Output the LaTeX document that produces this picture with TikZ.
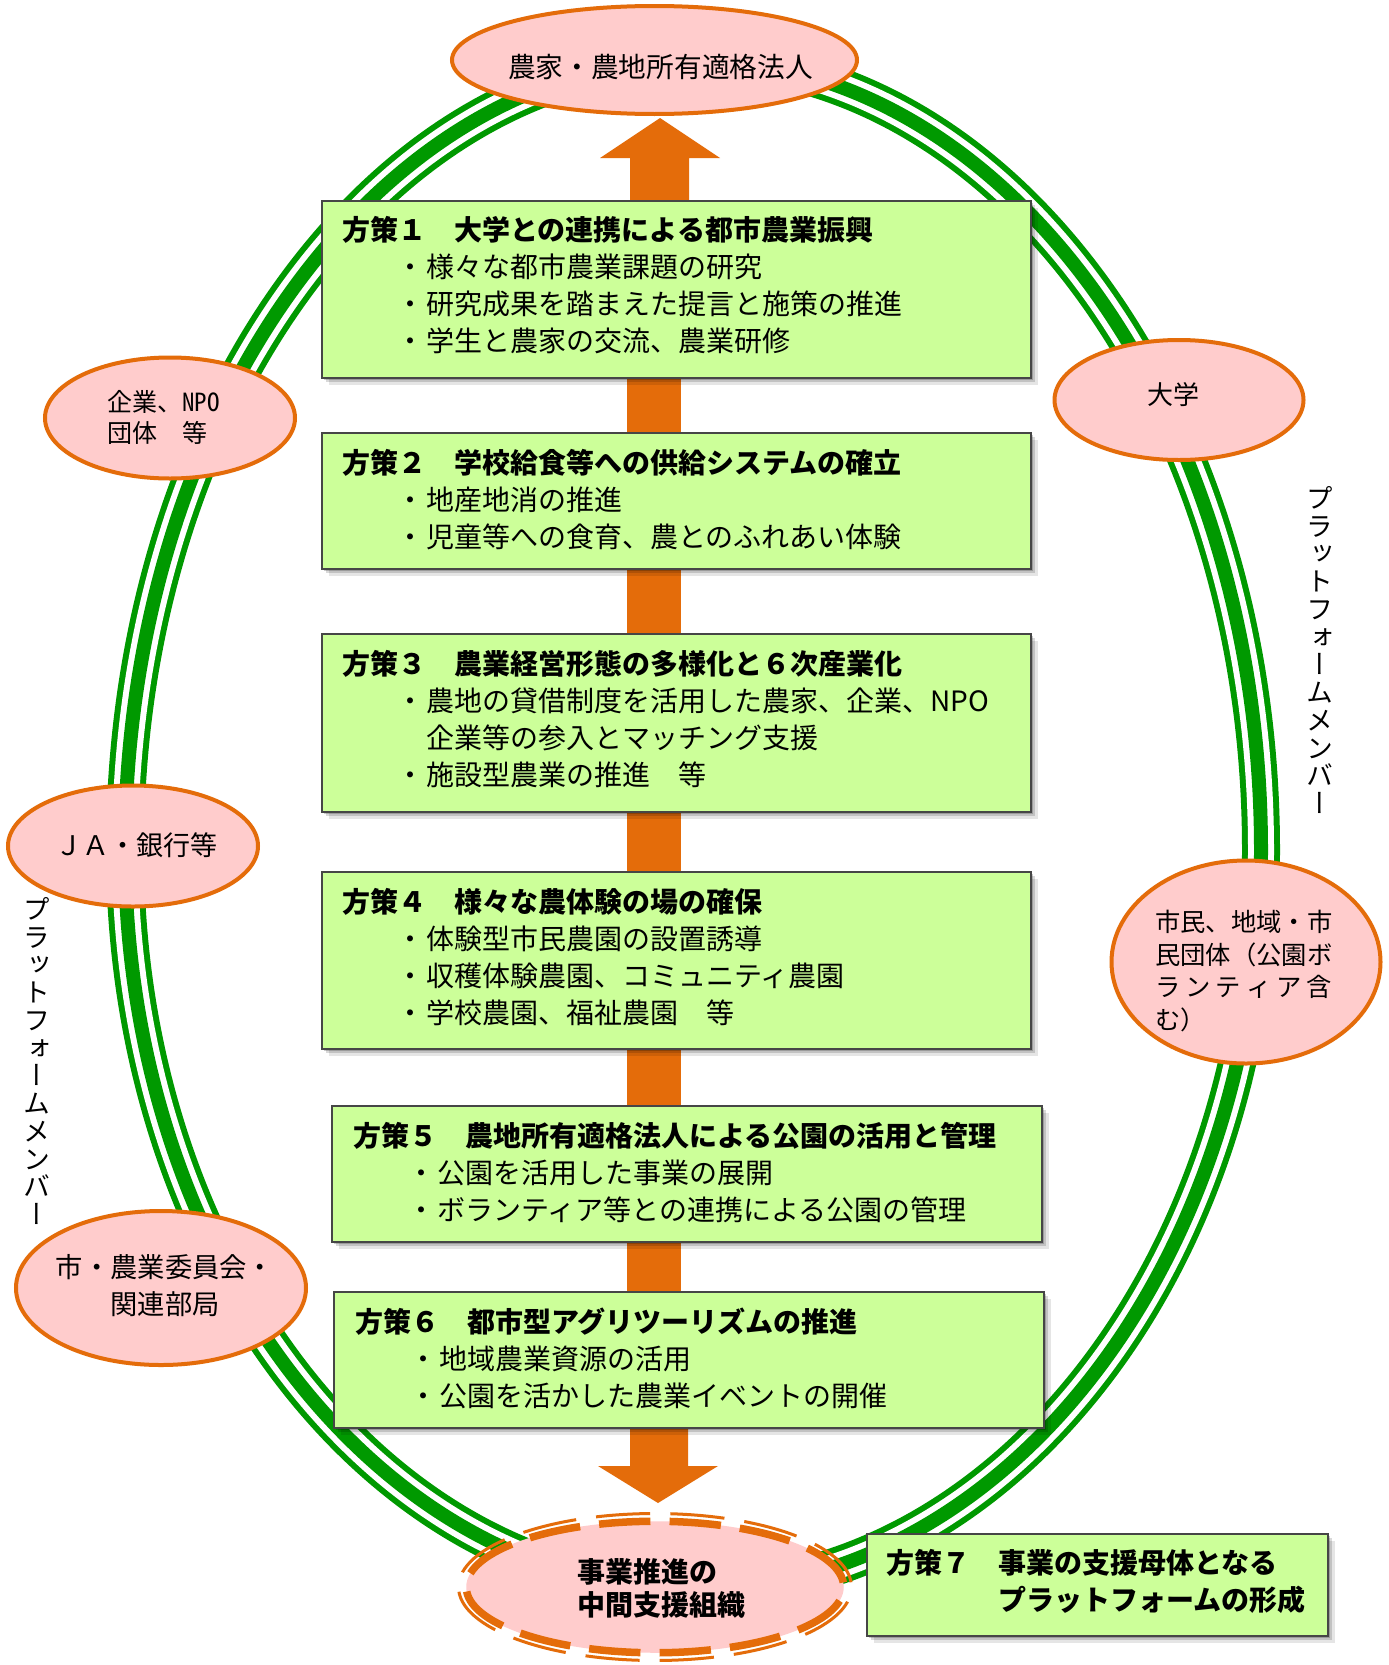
\documentclass[tikz,border=0pt]{standalone}
\usepackage{fontspec}
\setmainfont{Noto Sans CJK JP}
\newfontfamily\vertjp[RawFeature=+vert]{Noto Sans CJK JP}
\newfontfamily\halfjp[RawFeature=+hwid]{Noto Sans CJK JP}
\usetikzlibrary{shapes.geometric,shadows}

\definecolor{ringgreen}{RGB}{0,153,0}
\definecolor{orng}{RGB}{228,108,10}
\definecolor{pinkfill}{RGB}{255,204,204}
\definecolor{boxgreen}{RGB}{204,255,153}
\definecolor{boxline}{RGB}{70,70,70}

\newcommand\fs[2]{\fontsize{#1pt}{#2pt}\selectfont}
\newcommand\bul{\hspace*{68pt}\makebox[0pt]{・}\hspace*{16pt}}
\newcommand\cont{\hspace*{84pt}}

\begin{document}
\begin{tikzpicture}[x=1pt,y=-1pt,
  boxshade/.style={
    drop shadow={shadow xshift=2pt,shadow yshift=-2pt,opacity=.20,fill=black},
    drop shadow={shadow xshift=4pt,shadow yshift=-4pt,opacity=.15,fill=black},
    drop shadow={shadow xshift=7pt,shadow yshift=-7pt,opacity=.10,fill=black}},
  plan/.style={rectangle, draw=boxline, line width=1.5pt, fill=boxgreen,
    inner sep=0pt, anchor=north west, boxshade},
  plantext/.style={anchor=west, align=left, inner sep=0pt, font=\fs{28}{37}},
  member/.style={ellipse, draw=orng, line width=4pt, fill=pinkfill, inner sep=0pt},
  membertext/.style={inner sep=0pt, font=\fs{26}{31}},
  verttext/.style={inner sep=0pt, align=center, font=\vertjp\fs{27}{27.75}},
]
\useasboundingbox (0,0) rectangle (1389,1665);
\fill[white] (0,0) rectangle (1389,1665);

% platform ring: thin / thick / thin green bands
\foreach \w/\c in {38/ringgreen,26/white,14/ringgreen}
  \draw[line width=\w pt, \c]
    (125,850) arc[start angle=180, end angle=360, x radius=568, y radius=790]
              arc[start angle=0, end angle=180, x radius=568, y radius=740] -- cycle;

% orange flow: spine behind the plans, arrow heads at both ends
\fill[orng] (627,377) rectangle (681,1291);
\fill[orng] (630,201) -- (630,158) -- (600,158) -- (660,118) -- (720,158)
  -- (689,158) -- (689,201) -- cycle;
\fill[orng] (630,1426) -- (630,1466) -- (598,1466) -- (658,1503) -- (718,1466)
  -- (688,1466) -- (688,1426) -- cycle;

% plans
\node[plan, minimum width=709pt, minimum height=177pt] (b1) at (321,200) {};
\node[plan, minimum width=709pt, minimum height=136pt] (b2) at (321,432) {};
\node[plan, minimum width=709pt, minimum height=178pt] (b3) at (321,633) {};
\node[plan, minimum width=709pt, minimum height=177pt] (b4) at (321,871) {};
\node[plan, minimum width=710pt, minimum height=136pt] (b5) at (331,1105) {};
\node[plan, minimum width=710pt, minimum height=136pt] (b6) at (333,1291) {};
\node[plan, minimum width=461pt, minimum height=102pt] (b7) at (866,1533) {};

\node[plantext] (t1) at (342,285.5) {{\bfseries 方策１　大学との連携による都市農業振興}\\
  \bul 様々な都市農業課題の研究\\
  \bul 研究成果を踏まえた提言と施策の推進\\
  \bul 学生と農家の交流、農業研修};
\node[plantext] (t2) at (342,500) {{\bfseries 方策２　学校給食等への供給システムの確立}\\
  \bul 地産地消の推進\\
  \bul 児童等への食育、農とのふれあい体験};
\node[plantext] (t3) at (342,719.5) {{\bfseries 方策３　農業経営形態の多様化と６次産業化}\\
  \bul 農地の貸借制度を活用した農家、企業、NPO\\
  \cont 企業等の参入とマッチング支援\\
  \bul 施設型農業の推進　等};
\node[plantext] (t4) at (342,957.5) {{\bfseries 方策４　様々な農体験の場の確保}\\
  \bul 体験型市民農園の設置誘導\\
  \bul 収穫体験農園、コミュニティ農園\\
  \bul 学校農園、福祉農園　等};
\node[plantext] (t5) at (353,1172.5) {{\bfseries 方策５　農地所有適格法人による公園の活用と管理}\\
  \bul 公園を活用した事業の展開\\
  \bul ボランティア等との連携による公園の管理};
\node[plantext] (t6) at (355,1358.5) {{\bfseries 方策６　都市型アグリツーリズムの推進}\\
  \bul 地域農業資源の活用\\
  \bul 公園を活かした農業イベントの開催};
\node[plantext] (t7) at (886,1581.5) {\bfseries 方策７　事業の支援母体となる\\
  \bfseries\hspace*{112pt}プラットフォームの形成};

% platform members
\node[member, minimum width=405pt, minimum height=108pt] (top) at (654.5,60) {};
\node[membertext, font=\fs{27.7}{30}] (toptext) at (660.5,67) {農家・農地所有適格法人};

\node[member, minimum width=250pt, minimum height=121pt] (m1) at (170,418) {};
\node[membertext, anchor=west, align=left, font=\fs{25}{31}] (m1text) at (107,417)
  {企業、{\halfjp NPO}\\団体　等};

\node[member, minimum width=249pt, minimum height=120pt] (m2) at (1179,400) {};
\node[membertext] (m2text) at (1173,395) {大学};

\node[member, minimum width=250pt, minimum height=121pt] (m3) at (133,846) {};
\node[membertext, font=\fs{27}{31}] (m3text) at (136,845) {ＪＡ・銀行等};

\node[member, minimum width=290pt, minimum height=154pt] (m4) at (161,1288) {};
\node[membertext, align=center, font=\fs{27.3}{37}] (m4text) at (165,1285.5)
  {市・農業委員会・\\関連部局};

\node[member, minimum width=269pt, minimum height=203pt] (m5) at (1246,962) {};
\node[membertext, anchor=west, align=left, font=\fs{25.3}{32.7}] (m5text) at (1155,971)
  {市民、地域・市\\民団体（公園ボ\\
   \makebox[177pt][s]{ラ\hfill ン\hfill テ\hfill ィ\hfill ア\hfill 含}\\む）};

% intermediate support organisation (compound dashed outline: thick inner, thin outer)
\node[ellipse, fill=pinkfill, minimum width=377.5pt, minimum height=131.5pt, inner sep=0pt]
  (mid) at (655,1587) {};
\draw[orng, line width=7.5pt, dash pattern=on 51.5pt off 19.08pt, dash phase=56pt]
  (mid.center) ellipse [x radius=188.75, y radius=65.75];
\draw[orng, line width=3pt, dash pattern=on 54.3pt off 20.1pt, dash phase=59pt]
  (mid.center) ellipse [x radius=196.5, y radius=73.5];
\node[inner sep=0pt, align=left, font=\fs{28}{33}\bfseries] (midtext) at (661,1588)
  {事業推進の\\中間支援組織};

% vertical captions
\node[verttext] (capR) at (1320,650) {プ\\ラ\\ッ\\ト\\フ\\ォ\\ー\\ム\\メ\\ン\\バ\\ー};
\node[verttext] (capL) at (37,1061) {プ\\ラ\\ッ\\ト\\フ\\ォ\\ー\\ム\\メ\\ン\\バ\\ー};
\end{tikzpicture}
\end{document}
